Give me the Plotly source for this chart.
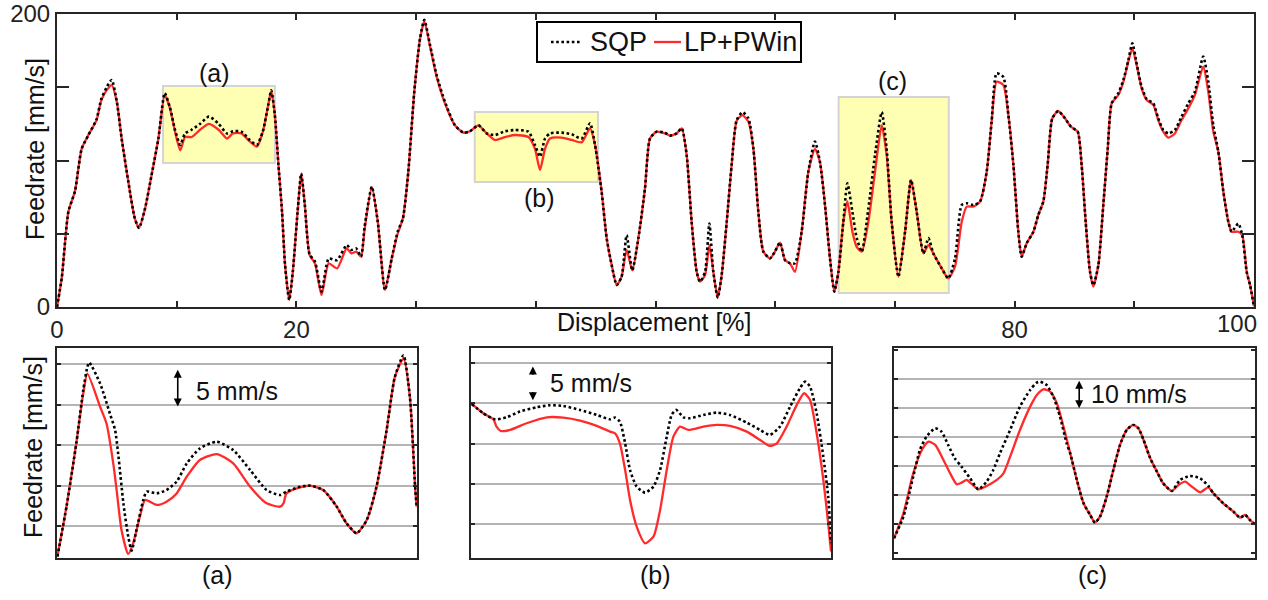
import plotly.graph_objects as go

# ---------------- main chart data ----------------
disp = [0.0, 0.4, 0.95, 1.5, 2.06, 2.6, 3.3, 3.7, 4.15, 4.57, 5.0, 5.4, 5.96, 6.5, 6.85, 7.35, 7.9, 8.47,
        9.0, 9.44, 9.86, 10.3, 10.7, 11.25, 11.95, 12.7, 13.5, 14.2, 14.7, 15.4, 16.1, 16.7, 17.2, 17.65,
        17.9, 18.2, 18.5, 18.8, 19.05, 19.4, 19.7, 20.1, 20.4, 20.7, 21.1, 21.55, 22.1, 22.7, 23.4, 24.2,
        24.6, 25.0, 25.4, 25.7, 26.3, 26.8, 27.4, 27.96, 28.46, 28.9, 29.35, 29.85, 30.33, 30.69, 31.16,
        31.72, 32.41, 33.25, 33.95, 34.5, 35.2, 35.9, 36.59, 37.43, 38.26, 39.38, 39.93, 40.35, 40.77,
        41.19, 42.16, 43.0, 43.83, 44.53, 44.95, 45.5, 45.92, 46.34, 46.76, 47.17, 47.59, 48.06, 48.57,
        49.12, 49.54, 50.1, 50.79, 51.21, 51.77, 52.19, 52.6, 53.02, 53.44, 53.72, 54.14, 54.5, 54.83,
        55.2, 55.53, 55.95, 56.36, 56.78, 57.26, 57.76, 58.18, 58.59, 59.01, 59.57, 59.98, 60.4, 60.82,
        61.24, 61.65, 62.21, 62.77, 63.32, 63.74, 64.16, 64.58, 64.94, 65.28, 65.69, 66.03, 66.45, 66.81,
        67.23, 67.78, 68.34, 68.9, 69.31, 69.73, 70.29, 70.85, 71.35, 71.82, 72.38, 72.8, 73.21, 73.91,
        74.46, 75.02, 75.58, 76.0, 76.55, 77.11, 77.67, 78.08, 78.5, 79.06, 79.48, 79.9, 80.31, 80.59,
        81.01, 81.57, 81.98, 82.4, 82.76, 83.15, 83.65, 84.21, 84.71, 85.27, 85.6, 85.94, 86.3, 86.58,
        87.0, 87.41, 87.78, 88.11, 88.67, 89.09, 89.5, 89.84, 90.2, 90.62, 91.03, 91.59, 92.0, 92.42,
        92.84, 93.39, 93.95, 94.51, 95.06, 95.76, 96.18, 96.6, 97.02, 97.44, 97.86, 98.13, 98.69, 99.02,
        99.39, 99.67, 100.0]
feed_sqp = [0, 20, 65, 79, 108, 117, 128, 142, 150, 155, 140, 115, 85.5, 60.5, 54, 67, 90, 115,
            146, 136, 121, 110.6, 118.5, 121, 125, 130, 125, 118.5, 120, 119.7, 114, 110.6, 120, 138,
            148, 131, 97, 65, 29, 4.8, 24, 65, 91, 70, 36, 31, 10.5, 33, 32, 42.3,
            39, 40, 34.4, 55, 82, 58, 11.6, 33, 51.4, 60.5, 92.4, 147, 183.4, 196, 179,
            158, 140, 124, 119, 120, 124, 118.5, 117.4, 120, 120.8, 119.7, 110.6, 102.6, 115,
            118.5, 119, 117.9, 115, 125.4, 110.6, 78.7, 47, 28.7, 15, 20.7, 49, 25, 47,
            81, 115, 119.7, 119, 117, 118.5, 122, 104, 58, 24, 17.3, 24, 57, 24,
            6.4, 21.8, 58, 97, 127.6, 133, 128.8, 108, 65, 37.8, 33.2, 37.8, 44, 32,
            29.8, 29.8, 51.4, 92.4, 113, 99, 69.6, 33, 10.5, 24, 58, 84.4, 65, 47,
            37.8, 67, 103.8, 133, 108, 58, 20.7, 51.4, 86.7, 65, 36.6, 47, 36.6, 26.4,
            19.6, 33, 69.6, 70.8, 69.6, 72, 92.4, 126.5, 159.5, 157, 131, 97, 51.4, 34.4,
            43.5, 51.4, 62.8, 72, 97, 128.8, 133.8, 128.8, 123, 119.7, 97, 58, 24, 15,
            28.7, 69.6, 108, 139, 146, 155, 168.5, 180, 166, 150, 142, 139, 128.8, 120.8,
            118.5, 120.8, 130, 139, 147, 171, 153.8, 124, 106, 78.7, 58, 51.4, 57, 49,
            24, 15, 0.5]
feed_lp = [0, 20, 65, 79, 108, 117, 127.6, 141, 148, 151.5, 140, 115, 85.5, 60.5, 54, 67, 90, 115,
           144.7, 135.6, 119.7, 107, 116, 116, 121, 125, 121, 115, 118.5, 118.5, 113, 109.4, 119.7, 138,
           147.4, 131, 97, 65, 29, 4.8, 24, 65, 91, 70, 35.5, 29.8, 8.2, 29.8, 26.4, 40,
           36.6, 37.8, 34.4, 53, 82, 58, 11.6, 33, 50, 60.5, 92.4, 147, 183, 195, 178,
           157, 139, 124, 119, 120, 124, 118.5, 114, 116, 117.4, 116, 108, 93.5, 108,
           115, 115.6, 114, 112.4, 122, 110.6, 78.7, 47, 28.7, 15, 20.7, 39, 25, 47,
           81, 115, 119.7, 118.5, 117, 118.5, 122, 104, 58, 24, 17.3, 21.8, 42.3, 24,
           6.4, 21.8, 58, 97, 127, 131, 126.5, 108, 65, 37.8, 33.2, 37.8, 44, 32,
           29.8, 24, 51.4, 92.4, 108, 99, 69.6, 33, 10.5, 24, 58, 72, 51.4, 41,
           37.8, 58, 92.4, 124, 103.8, 58, 20.7, 51.4, 86.7, 65, 36.6, 42.3, 36.6, 26.4,
           19.6, 27.5, 58, 68.5, 68.5, 72, 92.4, 126.5, 153.8, 151.5, 131, 97, 51.4, 34.4,
           43.5, 51.4, 62.8, 72, 97, 128.8, 133.8, 128.8, 123, 119.7, 97, 58, 24, 14,
           28.7, 69.6, 108, 139, 144.7, 153.8, 167.5, 176.6, 165, 149, 141.3, 138, 127.6, 119.7,
           115.6, 118.5, 127.6, 135.6, 144.7, 164, 147, 119.7, 106, 78.7, 58, 51.4, 51.4, 49,
           24, 15, 0.5]

# zoom windows (displacement %, feedrate) highlighted in the main chart
win_a = [8.86, 18.2, 98.3, 150.9]
win_b = [34.9, 45.2, 85.3, 133.1]
win_c = [65.3, 74.5, 9.6, 143.3]

# ---------------- inset (a) ----------------
a_x_sqp = [8.71, 8.96, 9.22, 9.4, 9.51, 9.56, 9.85, 10.11, 10.25, 10.34, 10.47, 10.6, 10.69, 10.82, 11.0,
           11.09, 11.36, 11.62, 11.89, 12.16, 12.51, 12.96, 13.4, 13.85, 14.29, 14.65, 14.82, 15.18, 15.45,
           15.8, 16.16, 16.42, 16.69, 16.96, 17.22, 17.49, 17.71, 17.94, 18.11, 18.25, 18.29]
a_y_sqp = [121.27, 127.6, 135.4, 141.8, 144.67, 145.21, 142.62, 138.92, 136.87, 133.59, 127.84, 123.74,
           122.01, 124.56, 128.25, 129.28, 129.07, 129.48, 130.51, 132.77, 134.61, 135.44, 134.41, 131.95,
           129.48, 128.87, 129.28, 129.89, 130.02, 129.48, 127.43, 125.38, 124.15, 125.79, 129.89, 136.87,
           143.44, 146.11, 140.98, 129.89, 127.43]
a_x_lp = [8.71, 8.96, 9.22, 9.4, 9.51, 9.85, 10.02, 10.2, 10.29, 10.42, 10.6, 10.73, 10.91, 11.05, 11.36,
          11.62, 11.89, 12.16, 12.51, 12.96, 13.4, 13.85, 14.29, 14.65, 14.74, 14.82, 15.18, 15.45, 15.8,
          16.16, 16.42, 16.69, 16.96, 17.22, 17.49, 17.71, 17.94, 18.11, 18.25, 18.29]
a_y_lp = [121.27, 127.64, 135.44, 141.4, 143.85, 139.75, 137.69, 132.77, 129.48, 124.56, 121.6, 122.91,
          126.2, 128.25, 127.64, 128.05, 129.07, 131.13, 133.18, 133.92, 132.77, 129.89, 127.84, 127.43,
          127.84, 129.07, 129.81, 130.02, 129.48, 127.43, 125.38, 124.15, 125.79, 129.89, 136.87, 143.44,
          145.7, 140.98, 129.89, 127.43]
a_grid = [125, 130, 135, 140, 145]

# ---------------- inset (b) ----------------
b_x_sqp = [34.92, 35.25, 35.59, 35.92, 36.3, 36.78, 37.16, 37.54, 38.02, 38.5, 38.88, 39.02, 39.16, 39.31,
           39.45, 39.64, 39.88, 40.12, 40.31, 40.5, 40.64, 40.77, 40.98, 41.17, 41.55, 41.93, 42.31, 42.79,
           43.17, 43.45, 43.74, 44.03, 44.31, 44.46, 44.6, 44.79, 44.98, 45.12, 45.2]
b_y_sqp = [119.94, 118.78, 118.03, 118.28, 118.99, 119.53, 119.78, 119.69, 119.2, 118.57, 118.03, 118.24,
           117.74, 115.05, 111.73, 109.66, 108.91, 109.66, 111.73, 115.88, 118.57, 119.2, 118.28, 118.16,
           118.57, 118.86, 118.57, 117.62, 116.71, 116.09, 117.12, 119.61, 121.89, 122.72, 122.1, 118.78,
           113.39, 108.42, 102.61]
b_x_lp = [34.92, 35.25, 35.54, 35.63, 35.75, 36.02, 36.49, 37.07, 37.54, 38.02, 38.5, 38.88, 39.02, 39.16,
          39.31, 39.45, 39.64, 39.88, 40.12, 40.31, 40.5, 40.69, 40.88, 41.12, 41.55, 41.93, 42.31, 42.79,
          43.17, 43.45, 43.65, 43.93, 44.22, 44.43, 44.6, 44.79, 44.98, 45.12, 45.2]
b_y_lp = [119.94, 118.78, 118.03, 117.12, 116.58, 116.71, 117.54, 118.28, 118.24, 117.87, 117.21, 116.5,
          116.29, 115.05, 111.73, 108.0, 104.68, 102.61, 103.44, 106.76, 111.73, 115.88, 117.12, 116.71,
          117.12, 117.33, 117.21, 116.5, 115.46, 114.72, 115.05, 117.12, 119.82, 121.27, 120.44, 116.29,
          110.49, 105.1, 101.58]
b_grid = [105, 110, 115, 120, 125]

# ---------------- inset (c) ----------------
c_x_sqp = [65.3, 65.54, 65.79, 65.96, 66.13, 66.35, 66.51, 66.68, 66.85, 67.02, 67.24, 67.45, 67.66, 67.83,
           68.0, 68.26, 68.51, 68.77, 68.94, 69.02, 69.19, 69.36, 69.53, 69.7, 69.79, 69.96, 70.13, 70.3,
           70.42, 70.55, 70.72, 70.89, 71.06, 71.23, 71.4, 71.53, 71.66, 71.83, 72.0, 72.16, 72.38, 72.59,
           72.84, 73.1, 73.31, 73.44, 73.69, 73.95, 74.12, 74.25, 74.37, 74.5]
c_y_sqp = [25.08, 32.56, 46.38, 55.59, 60.2, 63.07, 61.92, 57.32, 52.71, 49.83, 45.8, 42.0, 44.65, 48.68,
           54.44, 62.5, 70.56, 76.32, 78.85, 79.19, 78.04, 74.01, 67.1, 57.9, 54.44, 45.23, 37.17, 33.14,
           30.49, 32.56, 39.47, 48.68, 57.32, 62.5, 64.23, 63.07, 59.04, 52.71, 48.11, 44.08, 41.43, 45.23,
           46.61, 45.8, 43.15, 40.62, 37.17, 34.29, 32.22, 33.14, 31.41, 29.91]
c_x_lp = [65.3, 65.54, 65.79, 66.01, 66.18, 66.35, 66.56, 66.73, 66.9, 67.02, 67.15, 67.28, 67.45, 67.66,
          67.92, 68.09, 68.26, 68.51, 68.77, 68.94, 69.11, 69.28, 69.45, 69.62, 69.79, 69.96, 70.13, 70.3,
          70.42, 70.55, 70.72, 70.89, 71.06, 71.23, 71.4, 71.53, 71.66, 71.83, 72.0, 72.16, 72.38, 72.55,
          72.72, 72.89, 73.1, 73.31, 73.44, 73.69, 73.95, 74.12, 74.25, 74.37, 74.5]
c_y_lp = [25.08, 33.71, 47.53, 55.59, 58.47, 57.32, 52.14, 47.53, 43.73, 44.31, 45.23, 43.85, 42.0, 43.15,
          45.23, 47.53, 53.29, 62.5, 70.56, 74.59, 76.55, 75.74, 71.71, 63.65, 54.44, 45.23, 37.17, 33.14,
          30.49, 32.56, 39.47, 48.68, 57.32, 62.5, 64.23, 63.07, 59.04, 52.71, 48.11, 44.08, 41.43, 43.5,
          44.65, 42.92, 40.97, 42.69, 40.62, 37.17, 34.29, 32.22, 33.14, 31.41, 29.91]
c_grid = [30, 40, 50, 60, 70, 80]

x_tickvals = [0, 10, 20, 30, 40, 50, 60, 70, 80, 90, 100]
x_ticktext = ["0", "", "20", "", "", "", "", "", "80", "", ""]
x_last_label = "100"   # drawn pulled in from the right edge, as in the original
y_tickvals = [0, 50, 100, 150, 200]
y_ticktext = ["0", "", "", "", "200"]

series_names = ["SQP", "LP+PWin"]

# ---------------- figure ----------------
W, H = 1268, 600
FONT = "Liberation Sans, Arial, sans-serif"
RED = "#ff2a2a"
FRAME = "#262626"
SQP_DASH = "2.6px,2.6px"


def px_x(p):
    return p / W


def px_y(p):
    return 1 - p / H


fig = go.Figure()

series = [
    ("x", "y", disp, feed_lp, disp, feed_sqp),
    ("x2", "y2", a_x_lp, a_y_lp, a_x_sqp, a_y_sqp),
    ("x3", "y3", b_x_lp, b_y_lp, b_x_sqp, b_y_sqp),
    ("x4", "y4", c_x_lp, c_y_lp, c_x_sqp, c_y_sqp),
]
for xa, ya, xl, yl, xs, ys in series:
    fig.add_trace(go.Scatter(x=xl, y=yl, xaxis=xa, yaxis=ya, mode="lines", name=series_names[1],
                             showlegend=False,
                             line=dict(color=RED, width=2.3, shape="spline", smoothing=0.6)))
    fig.add_trace(go.Scatter(x=xs, y=ys, xaxis=xa, yaxis=ya, mode="lines", name=series_names[0],
                             showlegend=False,
                             line=dict(color="black", width=2.6, dash=SQP_DASH, shape="spline",
                                       smoothing=0.6)))

axis_common = dict(showline=True, linecolor=FRAME, linewidth=2, mirror="allticks", zeroline=False,
                   automargin=False, tickcolor=FRAME, tickwidth=2, ticklabeloverflow="allow",
                   tickfont=dict(family=FONT, size=24, color="#222"))

layout = dict(
    width=W, height=H, margin=dict(l=0, r=0, t=0, b=0, autoexpand=False),
    paper_bgcolor="white", plot_bgcolor="white", showlegend=False,
    font=dict(family=FONT, size=25, color="#111"),
    xaxis=dict(domain=[px_x(57), px_x(1254)], range=[0, 100], ticks="inside", ticklen=6,
               tickvals=x_tickvals, ticktext=x_ticktext, showgrid=False, anchor="y", **axis_common),
    yaxis=dict(domain=[px_y(307), px_y(14)], range=[0, 200], ticks="inside", ticklen=12,
               tickvals=y_tickvals, ticktext=y_ticktext, showgrid=False, anchor="x", **axis_common),
)

insets = [
    ("xaxis2", "yaxis2", "x2", "y2", 57, 417, [8.7, 18.3], [121.1, 147.0], a_grid, None),
    ("xaxis3", "yaxis3", "x3", "y3", 471, 831, [34.9, 45.2], [100.78, 126.9], b_grid, None),
    ("xaxis4", "yaxis4", "x4", "y4", 894, 1255, [65.3, 74.5], [18.27, 90.81], c_grid, 10),
]
for xk, yk, xn, yn, l, r, xr, yr, grid, minor_dt in insets:
    layout[xk] = dict(domain=[px_x(l), px_x(r)], range=xr, anchor=yn, ticks="", showticklabels=False,
                      showgrid=False, **axis_common)
    yd = dict(domain=[px_y(558), px_y(348)], range=yr, anchor=xn, ticks="inside", ticklen=4,
              tickvals=grid, showticklabels=False, showgrid=True, gridcolor="#b4b4b4", gridwidth=2,
              **axis_common)
    if minor_dt:
        yd["minor"] = dict(dtick=minor_dt, tick0=0, ticks="inside", ticklen=4, tickcolor=FRAME,
                           tickwidth=2, showgrid=False)
    layout[yk] = yd

fig.update_layout(**layout)

# highlight windows
for w in (win_a, win_b, win_c):
    fig.add_shape(type="rect", xref="x", yref="y", x0=w[0], x1=w[1], y0=w[2], y1=w[3],
                  fillcolor="#ffffb3", line=dict(color="#d4d4d4", width=2), layer="below")

# legend box (drawn in page pixels)
fig.add_shape(type="rect", xref="paper", yref="paper", x0=px_x(537), x1=px_x(801), y0=px_y(62),
              y1=px_y(22), fillcolor="white", line=dict(color="black", width=2), layer="above")
fig.add_shape(type="line", xref="paper", yref="paper", x0=px_x(551), x1=px_x(581), y0=px_y(42),
              y1=px_y(42), line=dict(color="black", width=2.6, dash=SQP_DASH), layer="above")
fig.add_shape(type="line", xref="paper", yref="paper", x0=px_x(654), x1=px_x(681), y0=px_y(42),
              y1=px_y(42), line=dict(color=RED, width=2.3), layer="above")

C = dict(xanchor="center", yanchor="middle", showarrow=False)
ann = []
ann.append(dict(text=series_names[0], xref="paper", yref="paper", x=px_x(588), y=px_y(42),
                xanchor="left", yanchor="middle", showarrow=False, font=dict(size=27)))
ann.append(dict(text=series_names[1], xref="paper", yref="paper", x=px_x(682), y=px_y(42),
                xanchor="left", yanchor="middle", showarrow=False, font=dict(size=27)))
# last x tick label, pulled inside the page
ann.append(dict(text=x_last_label, xref="paper", yref="paper", x=px_x(1259), y=px_y(323),
                xanchor="right", yanchor="middle", showarrow=False,
                font=dict(family=FONT, size=24, color="#222")))
# window labels on main chart
ann.append(dict(text="(a)", xref="x", yref="y", x=13.12, y=159.7, **C))
ann.append(dict(text="(b)", xref="x", yref="y", x=40.27, y=74.4, **C))
ann.append(dict(text="(c)", xref="x", yref="y", x=69.84, y=154.3, **C))
# axis titles
ann.append(dict(text="Displacement [%]", xref="paper", yref="paper", x=px_x(654), y=px_y(322), **C))
ann.append(dict(text="Feedrate [mm/s]", xref="paper", yref="paper", x=px_x(35), y=px_y(149),
                textangle=-90, **C))
ann.append(dict(text="Feedrate [mm/s]", xref="paper", yref="paper", x=px_x(33), y=px_y(447),
                textangle=-90, **C))
# inset captions
for t, cx in (("(a)", 217), ("(b)", 655), ("(c)", 1092)):
    ann.append(dict(text=t, xref="paper", yref="paper", x=px_x(cx), y=px_y(575), **C))

# scale arrows
arrow_style = dict(showarrow=True, arrowhead=2, arrowsize=1, arrowwidth=1.6, arrowcolor="black",
                   standoff=0, startstandoff=0, text="")
ann.append(dict(xref="x2", yref="y2", axref="x2", ayref="y2", x=11.92, y=139.8, ax=11.92, ay=144.5,
                arrowside="end+start", **arrow_style))
ann.append(dict(text="5 mm/s", xref="x2", yref="y2", x=12.35, y=141.67, xanchor="left",
                yanchor="middle", showarrow=False))
ann.append(dict(xref="x3", yref="y3", axref="x3", ayref="y3", x=36.67, y=124.6, ax=36.67, ay=123.4,
                arrowside="end", **arrow_style))
ann.append(dict(xref="x3", yref="y3", axref="x3", ayref="y3", x=36.67, y=120.4, ax=36.67, ay=121.6,
                arrowside="end", **arrow_style))
ann.append(dict(text="5 mm/s", xref="x3", yref="y3", x=37.10, y=122.49, xanchor="left",
                yanchor="middle", showarrow=False))
ann.append(dict(xref="x4", yref="y4", axref="x4", ayref="y4", x=70.02, y=70, ax=70.02, ay=80,
                arrowside="end+start", **arrow_style))
ann.append(dict(text="10 mm/s", xref="x4", yref="y4", x=70.27, y=74.92, xanchor="left",
                yanchor="middle", showarrow=False))

fig.update_layout(annotations=ann)
fig.write_html("out.html")
